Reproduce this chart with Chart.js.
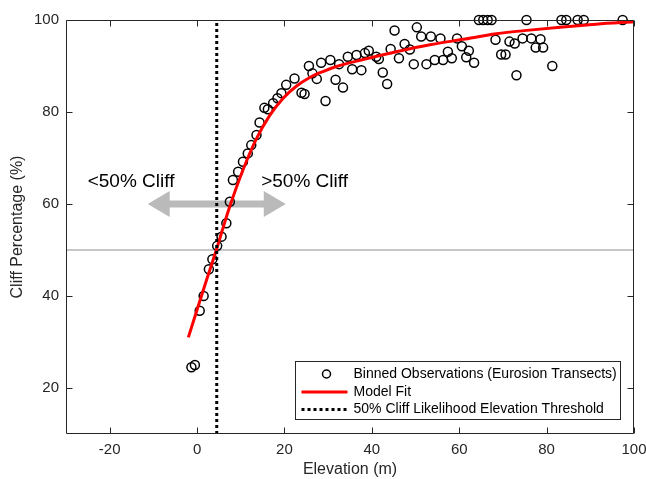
<!DOCTYPE html>
<html>
<head>
<meta charset="utf-8">
<script src="https://cdn.jsdelivr.net/npm/chart.js@4"></script>
<style>
html, body { margin: 0; padding: 0; background: #fff; }
</style>
</head>
<body>
<canvas id="chart" width="646" height="479"></canvas>
<script>
// binned observations (Eurosion transects)
const obsX = [-1.3, -0.5, 0.6, 1.5, 2.7, 3.5, 4.6, 5.6, 6.7, 7.5, 8.2, 9.4, 10.5, 11.6, 12.4, 13.6, 14.3, 15.4, 16.2, 17.4,
  18.4, 19.3, 20.4, 22.3, 23.9, 24.6, 25.6, 26.4, 27.4, 28.4, 29.4, 30.5, 31.7, 32.5, 33.4, 34.5, 35.5, 36.5, 37.6, 38.4,
  39.3, 41.0, 41.6, 42.5, 43.5, 44.3, 45.2, 46.2, 47.5, 48.7, 49.6, 50.3, 51.3, 52.5, 53.5, 54.4, 55.7, 56.3, 57.4, 58.3,
  59.5, 60.6, 61.6, 62.2, 63.4, 64.5, 65.5, 66.5, 67.4, 68.3, 69.6, 70.6, 71.5, 72.7, 73.1, 74.5, 75.4, 76.5, 77.5, 78.6,
  79.2, 81.3, 83.4, 84.5, 87.1, 88.5, 97.4];
const obsY = [24.5, 25.0, 36.8, 40.0, 45.8, 48.0, 50.9, 52.9, 55.8, 60.5, 65.2, 67.0, 69.2, 71.0, 72.8, 75.0, 77.7, 80.9, 80.6, 81.9,
  83.0, 84.1, 85.9, 87.3, 84.2, 83.9, 90.0, 88.4, 87.2, 90.7, 82.4, 91.3, 87.0, 90.4, 85.3, 92.0, 89.3, 92.4, 89.1, 92.8,
  93.3, 92.0, 91.5, 88.6, 86.1, 93.7, 97.7, 91.7, 94.8, 93.6, 90.4, 98.4, 96.4, 90.4, 96.4, 91.3, 96.0, 91.3, 93.1, 91.7,
  96.0, 94.3, 91.9, 93.3, 90.7, 100, 100, 100, 100, 95.7, 92.5, 92.5, 95.3, 94.9, 88.0, 96.0, 100, 96.0, 94.0, 95.8,
  94.0, 90.0, 100, 100, 100, 100, 100];

// model fit
const fitX = [-2.0, 0, 2, 4.4, 6, 7.5, 10.5, 13.6, 16.6, 19.7, 22.7, 25.8, 28.8, 31.9, 38.0, 45.6, 53.3, 60.9, 68.5, 76.1, 83.7, 91.4, 100];
const fitY = [31.0, 37.0, 43.0, 50.0, 55.0, 59.5, 67.4, 74.2, 79.2, 83.0, 85.6, 87.5, 88.8, 89.9, 91.4, 93.1, 94.6, 95.8, 97.0, 97.8, 98.5, 99.1, 99.6];

// 50% threshold lines
const thresholdX = [4.5, 4.5];
const thresholdY = [10, 100];
const halfX = [-30, 100];
const halfY = [50, 50];

const xTickVals = [-20, 0, 20, 40, 60, 80, 100];
const yTickVals = [20, 40, 60, 80, 100];

// arrow and its labels (data coords)
const arrowX = [-11.3, 20.3];
const arrowY = 60;
const noteText = ['<50% Cliff', '>50% Cliff'];
const noteX = [-15.1, 24.6];
const noteY = 64.8;

const legendLabels = ['Binned Observations (Eurosion Transects)', 'Model Fit', '50% Cliff Likelihood Elevation Threshold'];

const FONT = "'Liberation Sans', Arial, Helvetica, sans-serif";
const AXIS = '#262626';

function pts(xs, ys) {
  return xs.map((x, i) => ({ x: x, y: ys[i] }));
}

// arrow + text annotations, under the datasets
const notesPlugin = {
  id: 'notes',
  beforeDatasetsDraw(chart) {
    const ctx = chart.ctx;
    const xs = chart.scales.x, ys = chart.scales.y;
    const x1 = xs.getPixelForValue(arrowX[0]);
    const x2 = xs.getPixelForValue(arrowX[1]);
    const y = ys.getPixelForValue(arrowY);
    const hl = 22, hw = 13, sw = 3.5;
    ctx.save();
    ctx.fillStyle = '#bababa';
    ctx.beginPath();
    ctx.moveTo(x1, y);
    ctx.lineTo(x1 + hl, y - hw);
    ctx.lineTo(x1 + hl, y - sw);
    ctx.lineTo(x2 - hl, y - sw);
    ctx.lineTo(x2 - hl, y - hw);
    ctx.lineTo(x2, y);
    ctx.lineTo(x2 - hl, y + hw);
    ctx.lineTo(x2 - hl, y + sw);
    ctx.lineTo(x1 + hl, y + sw);
    ctx.lineTo(x1 + hl, y + hw);
    ctx.closePath();
    ctx.fill();

    ctx.fillStyle = '#000';
    ctx.font = '19px ' + FONT;
    ctx.textAlign = 'center';
    ctx.textBaseline = 'middle';
    noteText.forEach((t, i) => {
      ctx.fillText(t, xs.getPixelForValue(noteX[i]), ys.getPixelForValue(noteY));
    });
    ctx.restore();
  }
};

// box, inward ticks, legend
const framePlugin = {
  id: 'frame',
  afterDraw(chart) {
    const ctx = chart.ctx;
    const a = chart.chartArea;
    const xs = chart.scales.x, ys = chart.scales.y;
    const L = Math.round(a.left) + 0.5, R = Math.round(a.right) - 0.5;
    const T = Math.round(a.top) + 0.5, B = Math.round(a.bottom) - 0.5;
    ctx.save();
    ctx.strokeStyle = AXIS;
    ctx.lineWidth = 1;
    ctx.beginPath();
    ctx.rect(L, T, R - L, B - T);
    xTickVals.forEach(v => {
      const px = Math.round(xs.getPixelForValue(v)) + 0.5;
      ctx.moveTo(px, B); ctx.lineTo(px, B - 6);
      ctx.moveTo(px, T); ctx.lineTo(px, T + 6);
    });
    yTickVals.forEach(v => {
      const py = Math.round(ys.getPixelForValue(v)) + 0.5;
      ctx.moveTo(L, py); ctx.lineTo(L + 6, py);
      ctx.moveTo(R, py); ctx.lineTo(R - 6, py);
    });
    ctx.stroke();

    // legend box in lower right
    const w = 325, h = 58;
    const lx = Math.round(a.right) - 14 - w + 0.5;
    const ly = Math.round(a.bottom) - 15 - h + 0.5;
    ctx.fillStyle = '#fff';
    ctx.fillRect(lx, ly, w, h);
    ctx.strokeStyle = AXIS;
    ctx.strokeRect(lx, ly, w, h);
    const rows = [ly + 12.5, ly + 30.5, ly + 48];

    ctx.strokeStyle = '#000';
    ctx.lineWidth = 1.5;
    ctx.beginPath();
    ctx.arc(lx + 31, rows[0], 4, 0, Math.PI * 2);
    ctx.stroke();

    ctx.strokeStyle = '#ff0000';
    ctx.lineWidth = 3;
    ctx.beginPath();
    ctx.moveTo(lx + 6, rows[1]); ctx.lineTo(lx + 52, rows[1]);
    ctx.stroke();

    ctx.strokeStyle = '#000';
    ctx.setLineDash([3, 3]);
    ctx.beginPath();
    ctx.moveTo(lx + 6, rows[2]); ctx.lineTo(lx + 52, rows[2]);
    ctx.stroke();
    ctx.setLineDash([]);

    ctx.fillStyle = '#000';
    ctx.font = '14px ' + FONT;
    ctx.textAlign = 'left';
    ctx.textBaseline = 'middle';
    legendLabels.forEach((t, i) => ctx.fillText(t, lx + 58, rows[i]));
    ctx.restore();
  }
};

new Chart(document.getElementById('chart'), {
  type: 'scatter',
  data: {
    datasets: [
      {
        label: legendLabels[2],
        data: pts(thresholdX, thresholdY),
        showLine: true,
        borderColor: '#000',
        borderWidth: 3,
        borderDash: [3, 3],
        pointRadius: 0,
        order: 0
      },
      {
        label: legendLabels[1],
        data: pts(fitX, fitY),
        showLine: true,
        borderColor: '#ff0000',
        borderWidth: 3,
        cubicInterpolationMode: 'monotone',
        pointRadius: 0,
        order: 1
      },
      {
        label: legendLabels[0],
        data: pts(obsX, obsY),
        pointStyle: 'circle',
        pointRadius: 4.5,
        pointBorderWidth: 1.5,
        borderColor: '#000',
        backgroundColor: 'rgba(0,0,0,0)',
        clip: false,
        order: 2
      },
      {
        label: '50%',
        data: pts(halfX, halfY),
        showLine: true,
        borderColor: '#b4b4b4',
        borderWidth: 1.5,
        pointRadius: 0,
        order: 3
      }
    ]
  },
  options: {
    responsive: false,
    animation: false,
    devicePixelRatio: 1,
    layout: { padding: { top: 20, right: 12, left: 0, bottom: 0 } },
    plugins: {
      legend: { display: false },
      tooltip: { enabled: false }
    },
    scales: {
      x: {
        type: 'linear',
        min: -30,
        max: 100,
        afterBuildTicks: s => { s.ticks = xTickVals.map(v => ({ value: v })); },
        afterFit: s => { s.height = 45; s.paddingLeft = 0; s.paddingRight = 0; },
        grid: { display: false, drawTicks: false },
        border: { display: false },
        ticks: { color: AXIS, font: { family: FONT, size: 15 }, padding: 7, maxRotation: 0 },
        title: { display: true, text: 'Elevation (m)', color: AXIS, font: { family: FONT, size: 16 }, padding: { top: 0, bottom: 0 } }
      },
      y: {
        type: 'linear',
        min: 10,
        max: 100,
        afterBuildTicks: s => { s.ticks = yTickVals.map(v => ({ value: v })); },
        afterFit: s => { s.width = 66; s.paddingTop = 0; s.paddingBottom = 0; },
        grid: { display: false, drawTicks: false },
        border: { display: false },
        ticks: { color: AXIS, font: { family: FONT, size: 15 }, padding: 7 },
        title: { display: true, text: 'Cliff Percentage (%)', color: AXIS, font: { family: FONT, size: 16 }, padding: { top: 8, bottom: 0 } }
      }
    }
  },
  plugins: [notesPlugin, framePlugin]
});
</script>
</body>
</html>
